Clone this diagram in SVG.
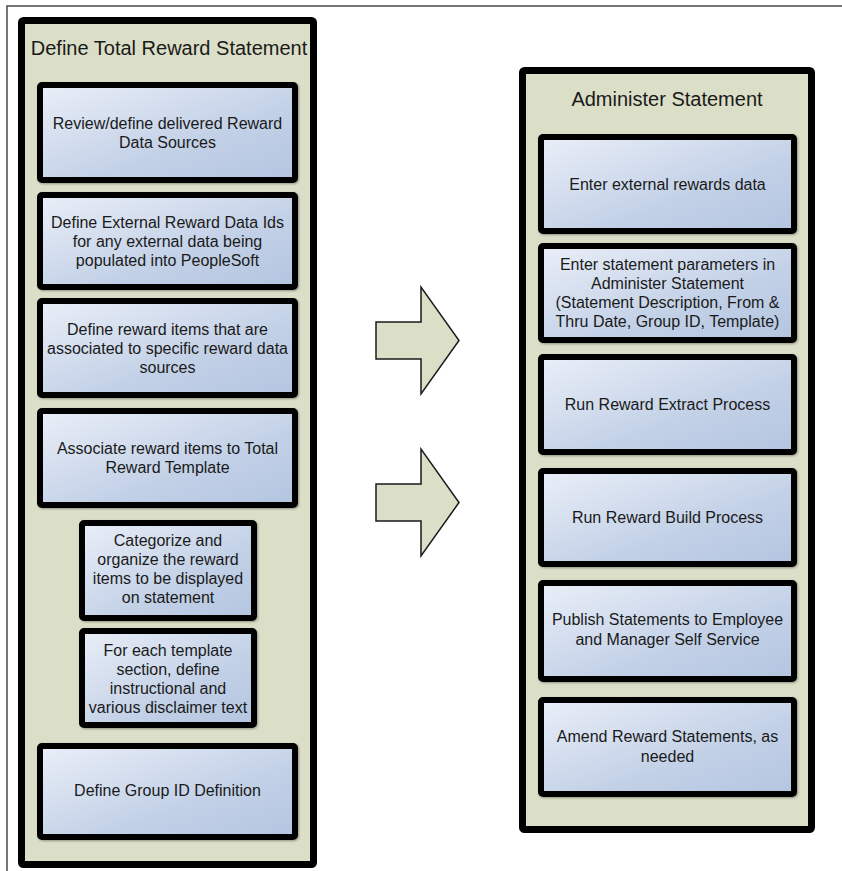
<svg xmlns="http://www.w3.org/2000/svg" width="842" height="871" viewBox="0 0 842 871">
<defs>
<linearGradient id="boxGrad" x1="0" y1="0" x2="1" y2="1">
<stop offset="0" stop-color="#eaeff8"/>
<stop offset="0.6" stop-color="#c3d1e7"/>
<stop offset="1" stop-color="#b3c5e0"/>
</linearGradient>
<filter id="shadow" x="-5%" y="-5%" width="115%" height="115%">
<feDropShadow dx="1" dy="1" stdDeviation="1" flood-color="#000" flood-opacity="0.35"/>
</filter>
</defs>
<style>
.frame{stroke:#4a4a4a;stroke-width:1.5;fill:none}
.container{fill:#dcdfc7;stroke:#000;stroke-width:7}
.box{fill:url(#boxGrad);stroke:#000;stroke-width:6;filter:url(#shadow)}
.title{font-family:"Liberation Sans",Arial,sans-serif;font-size:20px;fill:#1a1a1a;text-anchor:middle}
.label{font-family:"Liberation Sans",Arial,sans-serif;font-size:16px;fill:#1a1a1a;text-anchor:middle}
.arrow{fill:#dcdfc7;stroke:#1a1a1a;stroke-width:1.5;stroke-linejoin:miter}
</style>
<rect width="842" height="871" fill="#ffffff"/>
<path class="frame" d="M842,6 H7 V871"/>

<g id="define-total-reward-statement">
<rect class="container" x="21.5" y="20.5" width="292" height="844" rx="2"/>
<text class="title" x="169" y="55">Define Total Reward Statement</text>
</g>

<g id="l1">
<rect class="box" x="40" y="85" width="255" height="95" rx="2"/>
<text class="label" x="167.5"><tspan x="167.5" y="129">Review/define delivered Reward</tspan><tspan x="167.5" y="148">Data Sources</tspan></text>
</g>
<g id="l2">
<rect class="box" x="40" y="195" width="255" height="92" rx="2"/>
<text class="label"><tspan x="167.5" y="227.5">Define External Reward Data Ids</tspan><tspan x="167.5" y="246.5">for any external data being</tspan><tspan x="167.5" y="265.5">populated into PeopleSoft</tspan></text>
</g>
<g id="l3">
<rect class="box" x="40" y="301" width="255" height="94" rx="2"/>
<text class="label"><tspan x="167.5" y="334.5">Define reward items that are</tspan><tspan x="167.5" y="353.5">associated to specific reward data</tspan><tspan x="167.5" y="372.5">sources</tspan></text>
</g>
<g id="l4">
<rect class="box" x="40" y="411" width="255" height="94" rx="2"/>
<text class="label"><tspan x="167.5" y="453.5">Associate reward items to Total</tspan><tspan x="167.5" y="473">Reward Template</tspan></text>
</g>
<g id="l5">
<rect class="box" x="82" y="523" width="172" height="95" rx="2"/>
<text class="label"><tspan x="168" y="546">Categorize and</tspan><tspan x="168" y="565">organize the reward</tspan><tspan x="168" y="584">items to be displayed</tspan><tspan x="168" y="603">on statement</tspan></text>
</g>
<g id="l6">
<rect class="box" x="82" y="631" width="172" height="94" rx="2"/>
<text class="label"><tspan x="168" y="656">For each template</tspan><tspan x="168" y="675">section, define</tspan><tspan x="168" y="694">instructional and</tspan><tspan x="168" y="713">various disclaimer text</tspan></text>
</g>
<g id="l7">
<rect class="box" x="40" y="746" width="255" height="91" rx="2"/>
<text class="label" x="167.5" y="796">Define Group ID Definition</text>
</g>

<g id="administer-statement">
<rect class="container" x="522.5" y="70.5" width="289" height="759" rx="2"/>
<text class="title" x="667" y="106">Administer Statement</text>
</g>

<g id="r1">
<rect class="box" x="541" y="137" width="253" height="94" rx="2"/>
<text class="label" x="667.5" y="189.5">Enter external rewards data</text>
</g>
<g id="r2">
<rect class="box" x="541" y="246" width="253" height="94" rx="2"/>
<text class="label"><tspan x="667.5" y="269.5">Enter statement parameters in</tspan><tspan x="667.5" y="288.5">Administer Statement</tspan><tspan x="667.5" y="307.5">(Statement Description, From &amp;</tspan><tspan x="667.5" y="326.5">Thru Date, Group ID, Template)</tspan></text>
</g>
<g id="r3">
<rect class="box" x="541" y="357" width="253" height="95" rx="2"/>
<text class="label" x="667.5" y="409.5">Run Reward Extract Process</text>
</g>
<g id="r4">
<rect class="box" x="541" y="471" width="253" height="93" rx="2"/>
<text class="label" x="667.5" y="523">Run Reward Build Process</text>
</g>
<g id="r5">
<rect class="box" x="541" y="583" width="253" height="96" rx="2"/>
<text class="label"><tspan x="667.5" y="625">Publish Statements to Employee</tspan><tspan x="667.5" y="645">and Manager Self Service</tspan></text>
</g>
<g id="r6">
<rect class="box" x="541" y="700" width="253" height="94" rx="2"/>
<text class="label"><tspan x="667.5" y="742">Amend Reward Statements, as</tspan><tspan x="667.5" y="762">needed</tspan></text>
</g>

<g id="connectors">
<polygon class="arrow" points="376,322 421,322 421,287 459,340.5 421,394 421,359 376,359"/>
<polygon class="arrow" points="376,484 421,484 421,449 459,502.5 421,556 421,521 376,521"/>
</g>
</svg>
